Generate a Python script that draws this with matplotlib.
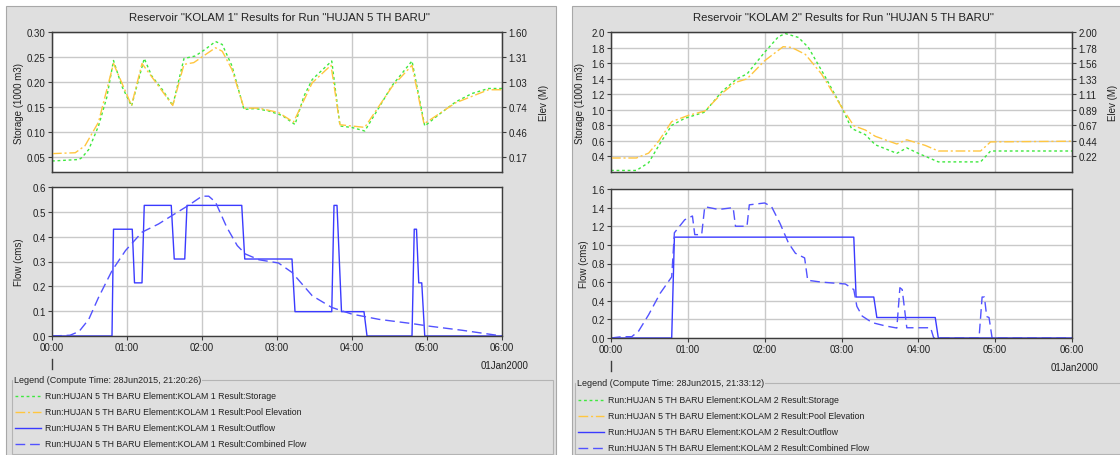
"""HEC-HMS style reservoir result panels for KOLAM 1 and KOLAM 2."""

import matplotlib
matplotlib.use("Agg")
import matplotlib.pyplot as plt
from matplotlib.lines import Line2D
from matplotlib.patches import Rectangle

plt.rcParams["font.family"] = ["Liberation Sans", "DejaVu Sans"]

W, H = 1120, 456

# ---- KOLAM 1 ---------------------------------------------------------
k1_sto_t = [0, 0.36, 0.40, 0.49, 0.62, 0.73, 0.82, 0.93, 1.06, 1.23, 1.33, 1.47,
            1.61, 1.76, 1.91, 2.04, 2.18, 2.27, 2.40, 2.56, 2.71, 2.89, 3.07,
            3.24, 3.36, 3.47, 3.73, 3.84, 4.00, 4.17, 4.36, 4.53, 4.80, 4.97,
            5.16, 5.38, 5.60, 5.82, 6.00]
k1_sto = [0.042, 0.045, 0.049, 0.065, 0.112, 0.169, 0.243, 0.192, 0.152, 0.247,
          0.212, 0.185, 0.153, 0.247, 0.252, 0.265, 0.281, 0.275, 0.232, 0.145,
          0.147, 0.142, 0.133, 0.115, 0.172, 0.205, 0.242, 0.112, 0.109, 0.102,
          0.149, 0.192, 0.242, 0.112, 0.135, 0.160, 0.177, 0.187, 0.187]
k1_elev_t = [0, 0.31, 0.44, 0.62, 0.82, 1.06, 1.20, 1.61, 1.76, 1.89, 2.18, 2.27,
             2.40, 2.56, 2.76, 3.02, 3.22, 3.47, 3.72, 3.84, 4.17, 4.53, 4.80,
             4.96, 5.38, 5.82, 6.00]
k1_elev = [0.21, 0.22, 0.30, 0.57, 1.24, 0.76, 1.24, 0.76, 1.23, 1.25, 1.42, 1.38,
           1.17, 0.73, 0.73, 0.68, 0.57, 1.02, 1.22, 0.54, 0.51, 0.97, 1.22,
           0.55, 0.79, 0.94, 0.94]
k1_out_t = [0, 0.80, 0.82, 1.07, 1.10, 1.20, 1.23, 1.59, 1.63, 1.77, 1.80, 2.53,
            2.57, 3.20, 3.24, 3.73, 3.76, 3.80, 3.86, 4.16, 4.20, 4.80, 4.83,
            4.86, 4.89, 4.93, 4.97, 6.00]
k1_out = [0, 0, 0.43, 0.43, 0.214, 0.214, 0.526, 0.526, 0.31, 0.31, 0.526, 0.526,
          0.31, 0.31, 0.098, 0.098, 0.526, 0.526, 0.098, 0.098, 0, 0, 0.43,
          0.43, 0.214, 0.214, 0, 0]
k1_comb_t = [0, 0.24, 0.36, 0.49, 0.62, 0.80, 0.98, 1.20, 1.42, 1.60, 1.82, 2.00,
             2.09, 2.18, 2.33, 2.47, 2.58, 2.76, 3.02, 3.20, 3.47, 3.73, 4.00,
             4.36, 4.80, 5.02, 5.47, 6.00]
k1_comb = [0, 0.003, 0.018, 0.067, 0.155, 0.263, 0.344, 0.418, 0.451, 0.485,
           0.526, 0.563, 0.563, 0.539, 0.438, 0.364, 0.330, 0.307, 0.294, 0.256,
           0.162, 0.115, 0.088, 0.067, 0.050, 0.040, 0.023, 0.0]

# ---- KOLAM 2 ---------------------------------------------------------
k2_sto_t = [0, 0.33, 0.49, 0.64, 0.79, 0.96, 1.22, 1.44, 1.64, 1.77, 2.00, 2.18,
            2.27, 2.44, 2.57, 2.79, 3.00, 3.13, 3.31, 3.44, 3.72, 3.85, 4.00,
            4.26, 4.81, 4.94, 6.00]
k2_sto = [0.22, 0.22, 0.32, 0.57, 0.80, 0.89, 0.97, 1.23, 1.40, 1.46, 1.74, 1.94,
          1.98, 1.93, 1.80, 1.42, 1.04, 0.76, 0.68, 0.55, 0.44, 0.51, 0.44,
          0.33, 0.33, 0.47, 0.47]
k2_elev_t = [0, 0.33, 0.49, 0.62, 0.79, 1.01, 1.22, 1.44, 1.62, 1.77, 2.00, 2.24,
             2.35, 2.53, 2.74, 3.00, 3.16, 3.31, 3.44, 3.72, 3.85, 4.09, 4.26,
             4.81, 4.94, 6.00]
k2_elev = [0.20, 0.20, 0.27, 0.44, 0.72, 0.81, 0.87, 1.12, 1.28, 1.33, 1.59, 1.79,
           1.78, 1.68, 1.40, 0.93, 0.66, 0.60, 0.51, 0.40, 0.46, 0.38, 0.30,
           0.30, 0.43, 0.44]
k2_out_t = [0, 0.79, 0.825, 3.16, 3.19, 3.42, 3.46, 4.22, 4.26, 6.00]
k2_out = [0, 0, 1.083, 1.083, 0.44, 0.44, 0.22, 0.22, 0, 0]
k2_comb_t = [0, 0.14, 0.27, 0.36, 0.49, 0.64, 0.79, 0.825, 0.96, 1.06, 1.09, 1.18,
             1.22, 1.40, 1.59, 1.62, 1.77, 1.80, 2.00, 2.09, 2.20, 2.31, 2.40,
             2.52, 2.56, 2.74, 3.05, 3.16, 3.20, 3.27, 3.40, 3.57, 3.72, 3.76,
             3.79, 3.85, 4.16, 4.20, 4.79, 4.83, 4.86, 4.89, 4.92, 4.96, 6.00]
k2_comb = [0, 0.014, 0.014, 0.075, 0.25, 0.48, 0.656, 1.13, 1.27, 1.31, 1.11, 1.11,
           1.41, 1.38, 1.40, 1.20, 1.20, 1.43, 1.45, 1.41, 1.23, 1.02, 0.91,
           0.86, 0.62, 0.60, 0.58, 0.52, 0.34, 0.235, 0.165, 0.13, 0.107, 0.54,
           0.52, 0.11, 0.11, 0, 0, 0.44, 0.44, 0.23, 0.22, 0, 0]

hour_ticks = [0, 1, 2, 3, 4, 5, 6]
hour_labels = ["00:00", "01:00", "02:00", "03:00", "04:00", "05:00", "06:00"]
result_names = ["Storage", "Pool Elevation", "Outflow", "Combined Flow"]

STYLE = {
    "Storage":        dict(color="#3ee83e", lw=1.0, ls=(0, (2, 2))),
    "Pool Elevation": dict(color="#ffc640", lw=1.0, ls=(0, (7, 2, 1.5, 2))),
    "Outflow":        dict(color="#3a3aff", lw=1.0, ls="-"),
    "Combined Flow":  dict(color="#5252ff", lw=1.0, ls=(0, (7, 3.5))),
}

BG = "#dfdfdf"
SPINE = "#3c3c3c"
GRID = "#c9c9c9"
TXT = "#222222"
FS = 7.0


def fx(x):
    return x / W


def fy(y):
    return 1 - y / H


def box(x0, y0, x1, y1):
    return [fx(x0), fy(y1), (x1 - x0) / W, (y1 - y0) / H]


def style_axes(ax):
    for s in ax.spines.values():
        s.set_color(SPINE)
        s.set_linewidth(1.0)
    ax.set_facecolor("white")
    ax.tick_params(direction="out", length=3, width=0.8, color=SPINE,
                   labelsize=FS, pad=1.5, labelcolor=TXT)
    ax.grid(True, color=GRID, lw=1.0)
    ax.set_axisbelow(True)
    ax.set_xlim(0, 6)
    ax.set_xticks(hour_ticks)


def draw_panel(fig, p):
    x0, x1 = p["px"]
    fig.patches.append(Rectangle((fx(p["bg"][0]), 0), (p["bg"][1] - p["bg"][0]) / W,
                                 fy(7), transform=fig.transFigure,
                                 facecolor=BG, edgecolor="#a8a8a8", lw=0.8,
                                 zorder=-10))
    fig.text(fx((x0 + x1) / 2 + 2), fy(18), p["title"], ha="center",
             va="center", fontsize=8.2, color=TXT)

    # storage / elevation
    ax1 = fig.add_axes(box(x0, 33, x1, 173))
    style_axes(ax1)
    ax1.tick_params(axis="x", length=0, labelbottom=False)
    s0, s1 = p["sto_lim"]
    ax1.set_ylim(s0, s1)
    ax1.set_yticks(p["sto_ticks"])
    ax1.set_yticklabels([p["sto_fmt"] % v for v in p["sto_ticks"]])
    ax1.set_ylabel("Storage (1000 m3)", fontsize=FS, color=TXT)
    ax1.yaxis.set_label_coords(fx(p["ylab_x"]), fy(103), transform=fig.transFigure)
    ax2 = ax1.twinx()
    e1 = p["elev_top"]
    ax2.set_ylim(0, e1)
    etick = [(v - s0) / (s1 - s0) * e1 for v in p["sto_ticks"]]
    ax2.set_yticks(etick)
    ax2.set_yticklabels(["%.2f" % v for v in etick])
    ax2.tick_params(direction="out", length=3, width=0.8, color=SPINE,
                    labelsize=FS, pad=1.5, labelcolor=TXT)
    for s in ax2.spines.values():
        s.set_color(SPINE)
    ax2.set_ylabel("Elev (M)", fontsize=FS, color=TXT)
    ax2.yaxis.set_label_coords(fx(p["elab_x"]), fy(103), transform=fig.transFigure)
    ax1.plot(p["sto_t"], p["sto"], **STYLE["Storage"])
    ax2.plot(p["elev_t"], p["elev"], **STYLE["Pool Elevation"])

    # flow
    ax3 = fig.add_axes(box(x0, p["flow_top"], x1, p["flow_bot"]))
    style_axes(ax3)
    ax3.set_ylim(0, p["flow_lim"])
    ax3.set_yticks(p["flow_ticks"])
    ax3.set_yticklabels(["%.1f" % v for v in p["flow_ticks"]])
    ax3.set_xticklabels(hour_labels)
    ax3.set_ylabel("Flow (cms)", fontsize=FS, color=TXT)
    ax3.yaxis.set_label_coords(fx(p["ylab_x"] + p["flow_dx"]),
                               fy((p["flow_top"] + p["flow_bot"]) / 2),
                               transform=fig.transFigure)
    ax3.plot(p["out_t"], p["out"], **STYLE["Outflow"])
    ax3.plot(p["comb_t"], p["comb"], **STYLE["Combined Flow"])

    # date marker below the time axis
    fig.add_artist(Line2D([fx(x0), fx(x0)],
                          [fy(p["flow_bot"] + 23), fy(p["flow_bot"] + 33)],
                          transform=fig.transFigure, color=SPINE, lw=1))
    fig.text(fx(x1 + 3), fy(p["flow_bot"] + 29), "01Jan2000", ha="center",
             va="center", fontsize=FS, color=TXT)

    # legend
    lx0, lx1, ly = p["leg_box"]
    fig.patches.append(Rectangle((fx(lx0), fy(455)), (lx1 - lx0) / W,
                                 (455 - ly) / H, transform=fig.transFigure,
                                 facecolor="none", edgecolor="#b4b4b4", lw=0.8))
    fig.text(fx(lx0 + 2), fy(ly), p["legend_title"], ha="left", va="center",
             fontsize=FS - 0.5, color=TXT,
             bbox=dict(facecolor=BG, edgecolor="none", pad=0.5))
    for i, name in enumerate(result_names):
        y = p["leg_y0"] + i * 16
        st = STYLE[name]
        fig.add_artist(Line2D([fx(lx0 + 3), fx(lx0 + 29)], [fy(y), fy(y)],
                              transform=fig.transFigure, color=st["color"],
                              lw=st["lw"], ls=st["ls"]))
        fig.text(fx(lx0 + 33), fy(y),
                 "Run:HUJAN 5 TH BARU Element:KOLAM %s Result:%s" % (p["k"], name),
                 ha="left", va="center", fontsize=FS - 0.7, color=TXT)


panels = [
    dict(k="1", px=(52, 502), bg=(6, 556), flow_top=188, flow_bot=337,
         title='Reservoir "KOLAM 1" Results for Run "HUJAN 5 TH BARU"',
         sto_lim=(0.02, 0.30), sto_ticks=[0.05, 0.10, 0.15, 0.20, 0.25, 0.30],
         sto_fmt="%.2f", elev_top=1.6, flow_lim=0.6,
         flow_ticks=[0, 0.1, 0.2, 0.3, 0.4, 0.5, 0.6],
         sto_t=k1_sto_t, sto=k1_sto, elev_t=k1_elev_t, elev=k1_elev,
         out_t=k1_out_t, out=k1_out, comb_t=k1_comb_t, comb=k1_comb,
         ylab_x=24, flow_dx=0, elab_x=539, leg_box=(12, 553, 381), leg_y0=397,
         legend_title="Legend (Compute Time: 28Jun2015, 21:20:26)"),
    dict(k="2", px=(611, 1072), bg=(572, 1121), flow_top=190, flow_bot=339,
         title='Reservoir "KOLAM 2" Results for Run "HUJAN 5 TH BARU"',
         sto_lim=(0.2, 2.0), sto_ticks=[0.4, 0.6, 0.8, 1.0, 1.2, 1.4, 1.6, 1.8, 2.0],
         sto_fmt="%.1f", elev_top=2.0, flow_lim=1.6,
         flow_ticks=[0, 0.2, 0.4, 0.6, 0.8, 1.0, 1.2, 1.4, 1.6],
         sto_t=k2_sto_t, sto=k2_sto, elev_t=k2_elev_t, elev=k2_elev,
         out_t=k2_out_t, out=k2_out, comb_t=k2_comb_t, comb=k2_comb,
         ylab_x=585, flow_dx=4, elab_x=1108, leg_box=(575, 1125, 384), leg_y0=401,
         legend_title="Legend (Compute Time: 28Jun2015, 21:33:12)"),
]

fig = plt.figure(figsize=(W / 100, H / 100), dpi=100)
fig.patch.set_facecolor("white")
for p in panels:
    draw_panel(fig, p)

fig.savefig("out.png", dpi=100, facecolor="white")
